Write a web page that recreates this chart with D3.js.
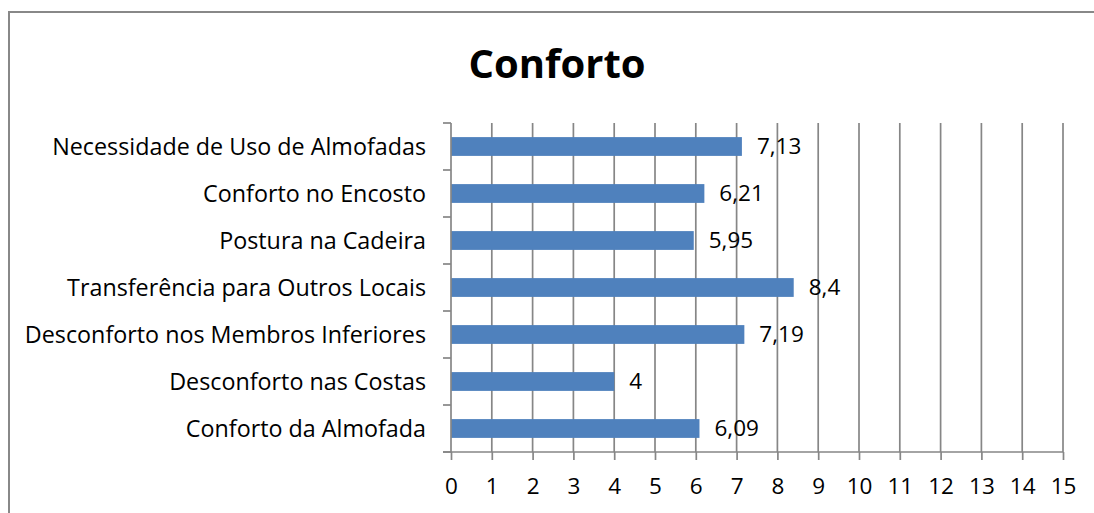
<!DOCTYPE html>
<html>
<head>
<meta charset="utf-8">
<script src="https://cdn.jsdelivr.net/npm/d3@7"></script>
<style>
  body { margin: 0; background: #fff; }
  svg text { font-family: "Open Sans", sans-serif; fill: #000; }
</style>
</head>
<body>
<svg id="chart" width="1094" height="513"></svg>
<script>
"use strict";

// categories listed top to bottom, as in the picture
const categories = [
  "Necessidade de Uso de Almofadas",
  "Conforto no Encosto",
  "Postura na Cadeira",
  "Transferência para Outros Locais",
  "Desconforto nos Membros Inferiores",
  "Desconforto nas Costas",
  "Conforto da Almofada"
];
const values = [7.13, 6.21, 5.95, 8.4, 7.19, 4, 6.09];
const xTicks = d3.range(0, 16);

const svg = d3.select("#chart");
const m = {left: 451, right: 1063, top: 123, bottom: 452};
const fs = 22.5;

// outer frame of the chart
svg.append("rect")
  .attr("x", 9).attr("y", 12).attr("width", 1100).attr("height", 520)
  .attr("fill", "none").attr("stroke", "#888").attr("stroke-width", 2);

svg.append("text")
  .attr("x", 557).attr("y", 78)
  .attr("text-anchor", "middle")
  .attr("font-size", 40).attr("font-weight", "bold")
  .text("Conforto");

let x = d3.scaleLinear().domain([0, 15]).range([m.left, m.right]);
let y = d3.scaleBand().domain(categories).range([m.top, m.bottom]).paddingInner(0.6).paddingOuter(0.3);

// grid
svg.append("g").selectAll("line").data(xTicks.slice(1)).join("line")
  .attr("x1", d => x(d)).attr("x2", d => x(d))
  .attr("y1", m.top).attr("y2", m.bottom)
  .attr("stroke", "#868686").attr("stroke-width", 1.7);

// bars
svg.append("g").selectAll("rect").data(values).join("rect")
  .attr("x", x(0))
  .attr("y", (d, i) => y(categories[i]))
  .attr("width", d => x(d) - x(0))
  .attr("height", y.bandwidth())
  .attr("fill", "#4f81bd");

// value labels
const fmt = d => String(d).replace(".", ",");
svg.append("g").selectAll("text").data(values).join("text")
  .attr("x", d => x(d) + 15)
  .attr("y", (d, i) => y(categories[i]) + y.bandwidth() / 2)
  .attr("dy", "0.35em")
  .attr("font-size", fs)
  .text(fmt);

// x axis
let xAxis = d3.axisBottom(x).tickValues(xTicks).tickSize(8).tickPadding(18).tickSizeOuter(0);
let gx = svg.append("g").attr("transform", `translate(0,${m.bottom})`).call(xAxis);
gx.select(".domain").attr("d", `M${m.left - 8},0H${m.right}`);
gx.selectAll("path, line").attr("stroke", "#868686").attr("stroke-width", 1.7);
gx.selectAll("text").attr("font-size", fs).attr("font-family", null);

// y axis: ticks on category boundaries
let bounds = d3.range(categories.length + 1).map(i => m.top + i * (m.bottom - m.top) / categories.length);
let gy = svg.append("g");
gy.append("line").attr("x1", m.left).attr("x2", m.left).attr("y1", m.top).attr("y2", m.bottom)
  .attr("stroke", "#868686").attr("stroke-width", 1.7);
gy.selectAll("line.tk").data(bounds).join("line").attr("class", "tk")
  .attr("x1", m.left - 8).attr("x2", m.left).attr("y1", d => d).attr("y2", d => d)
  .attr("stroke", "#868686").attr("stroke-width", 1.7);
gy.selectAll("text").data(categories).join("text")
  .attr("x", m.left - 25)
  .attr("y", d => y(d) + y.bandwidth() / 2)
  .attr("dy", "0.35em")
  .attr("text-anchor", "end")
  .attr("font-size", 23.3)
  .text(d => d);
</script>
</body>
</html>
